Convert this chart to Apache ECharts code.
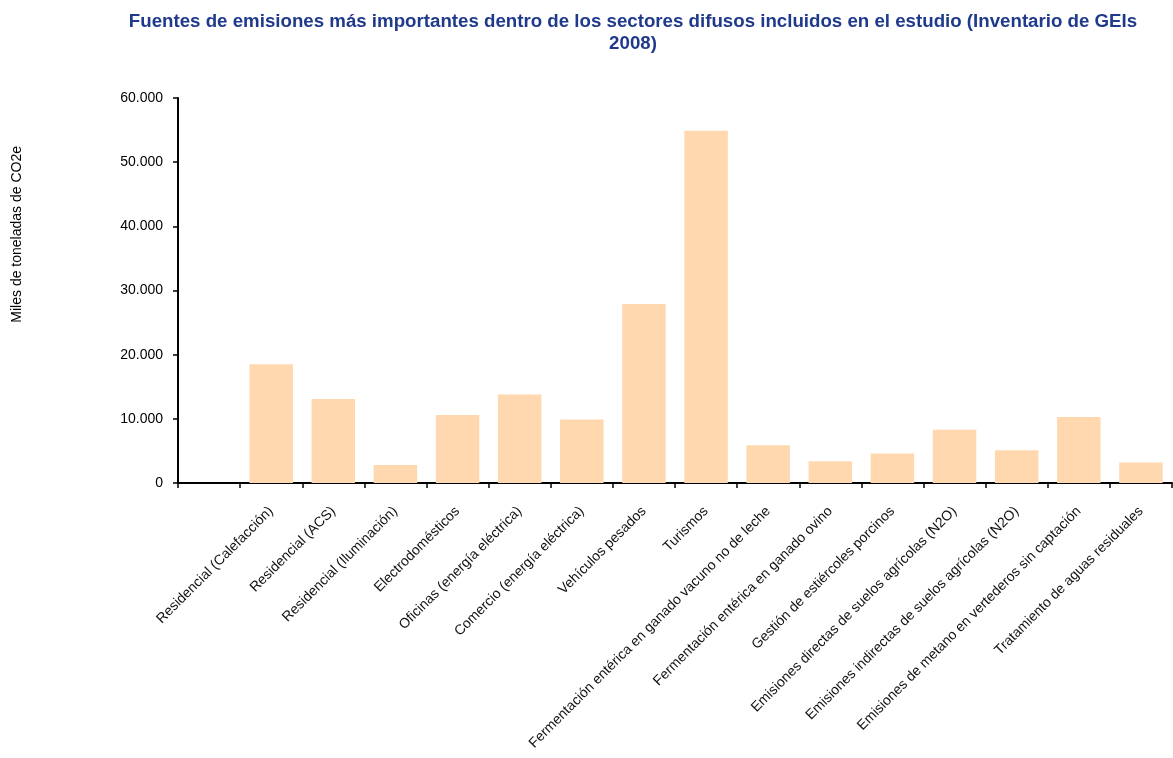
<!DOCTYPE html>
<html>
<head>
<meta charset="utf-8">
<script src="https://cdn.jsdelivr.net/npm/echarts@6/dist/echarts.min.js"></script>
<style>
  html, body { margin: 0; padding: 0; background: #fff; }
  #chart { width: 1173px; height: 758px; }
</style>
</head>
<body>
<div id="chart"></div>
<script>
// Emission sources (first slot left empty, as in the inventory layout)
const categories = [
  '',
  'Residencial (Calefacción)',
  'Residencial (ACS)',
  'Residencial (Iluminación)',
  'Electrodomésticos',
  'Oficinas (energía eléctrica)',
  'Comercio (energía eléctrica)',
  'Vehículos pesados',
  'Turismos',
  'Fermentación entérica en ganado vacuno no de leche',
  'Fermentación entérica en ganado ovino',
  'Gestión de estiércoles porcinos',
  'Emisiones directas de suelos agrícolas (N2O)',
  'Emisiones indirectas de suelos agrícolas (N2O)',
  'Emisiones de metano en vertederos sin captación',
  'Tratamiento de aguas residuales'
];

// Thousands of tonnes of CO2e
const emissions = [
  null, 18500, 13100, 2800, 10600, 13800, 9900, 27900, 54900,
  5900, 3400, 4600, 8300, 5100, 10300, 3200
];

const yTicks = { min: 0, max: 60000, interval: 10000 };

const chart = echarts.init(document.getElementById('chart'));

chart.setOption({
  animation: false,
  graphic: [{
    // chart title, centred over the plot
    type: 'text',
    x: 633,
    y: 11,
    style: {
      text: 'Fuentes de emisiones más importantes dentro de los sectores difusos incluidos en el estudio (Inventario de GEIs\n2008)',
      font: 'bold 18.7px "Liberation Sans", Arial, sans-serif',
      fill: '#1F3A8C',
      align: 'center',
      verticalAlign: 'top',
      lineHeight: 22
    }
  }, {
    // value axis caption
    type: 'text',
    left: 10,
    top: 146,
    rotation: Math.PI / 2,
    style: {
      text: 'Miles de toneladas de CO2e',
      font: '14px "Liberation Sans", Arial, sans-serif',
      fill: '#000'
    }
  }],
  grid: { left: 178, right: 1, top: 98, bottom: 275, containLabel: false },
  xAxis: {
    type: 'category',
    data: categories,
    axisLine: { lineStyle: { color: '#000', width: 2 } },
    axisTick: { show: true, length: 5, lineStyle: { color: '#000', width: 1.5 } },
    axisLabel: {
      interval: 0,
      rotate: 45,
      fontFamily: 'Liberation Sans, Arial, sans-serif',
      fontSize: 14,
      color: '#111',
      margin: 26
    }
  },
  yAxis: {
    type: 'value',
    min: yTicks.min,
    max: yTicks.max,
    interval: yTicks.interval,
    splitLine: { show: false },
    axisLine: { show: true, lineStyle: { color: '#000', width: 2 } },
    axisTick: { show: true, length: 5, lineStyle: { color: '#000', width: 1.5 } },
    axisLabel: {
      fontFamily: 'Liberation Sans, Arial, sans-serif',
      fontSize: 14,
      color: '#000',
      margin: 15,
      formatter: v => v.toString().replace(/\B(?=(\d{3})+(?!\d))/g, '.')
    }
  },
  series: [{
    type: 'bar',
    data: emissions,
    barWidth: '70%',
    itemStyle: { color: '#FFD8AF' }
  }]
});
</script>
</body>
</html>
